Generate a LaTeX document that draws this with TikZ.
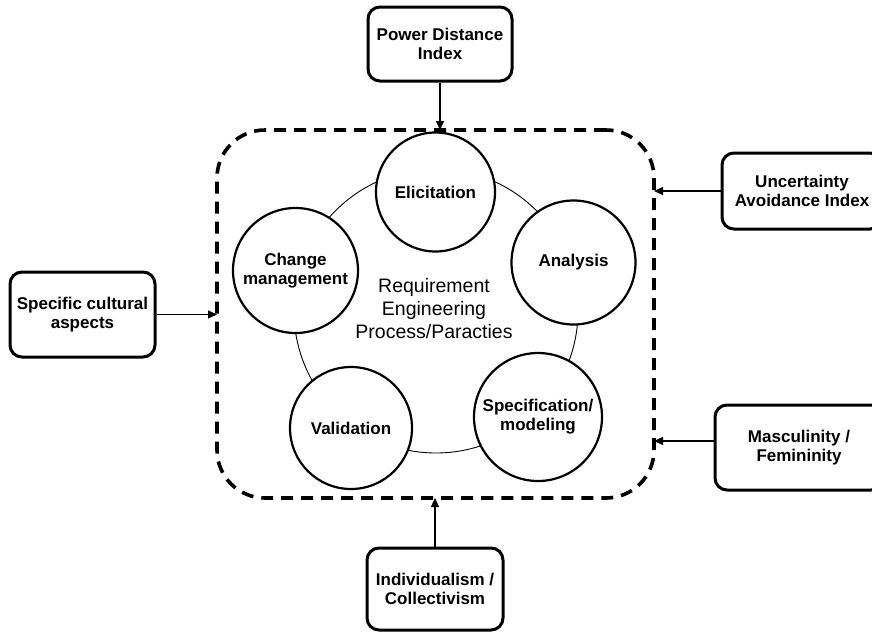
\documentclass[tikz,border=0pt]{standalone}
\usepackage{fontspec}
\setmainfont{Liberation Sans}
\usetikzlibrary{arrows.meta,calc}
\begin{document}
\begin{tikzpicture}[x=1pt,y=-1pt,
  box/.style={draw,line width=3pt,rounded corners=12pt,align=center,inner sep=0pt,
    font=\fontsize{17}{19}\selectfont\bfseries},
  stage/.style={draw,circle,line width=2.2pt,fill=white,inner sep=0pt,align=center,
    font=\fontsize{17}{19}\selectfont\bfseries},
  frame/.style={draw,rectangle,rounded corners=48pt,line width=3.6pt,
    dash pattern=on 12pt off 8pt,outer sep=0pt,inner sep=0pt},
  link/.style={line width=1.2pt,-{Triangle[length=9pt,width=8pt]}}
]
\useasboundingbox (0,0) rectangle (872,632);
\clip (0,0) rectangle (872,632);
\fill[white] (0,0) rectangle (872,632);

% dashed frame
\node[frame,minimum width=437pt,minimum height=368pt] (frame) at (435.5,314) {};

% thin cycle
\coordinate (cyc) at (436,311);
\draw[line width=0.9pt] (cyc) circle[radius=142];

% stages
\node[stage,minimum size=119pt] (eli) at (435.5,192) {Elicitation};
\node[stage,minimum size=124pt] (ana) at (573.5,262.5) {Analysis};
\node[stage,minimum size=128pt] (spe) at (538,417) {Specification/\\modeling};
\node[stage,minimum size=122pt] (val) at (351,428) {Validation};
\node[stage,minimum size=125pt] (chg) at (295.5,270.5) {Change\\management};

\node[align=center,font=\fontsize{19.5}{23}\selectfont] (ctr) at (434,309)
  {Requirement\\Engineering\\Process/Paracties};

% outer boxes
\node[box,minimum width=144pt,minimum height=74pt] (pdi) at (440,44) {Power Distance\\Index};
\node[box,minimum width=160pt,minimum height=76pt] (uai) at (802,191) {Uncertainty\\Avoidance Index};
\node[box,minimum width=145pt,minimum height=85pt] (sca) at (82.5,314.5) {Specific cultural\\aspects};
\node[box,minimum width=168pt,minimum height=85pt] (mf) at (799,447.5) {Masculinity /\\Femininity};
\node[box,minimum width=136pt,minimum height=82pt] (ic) at (435,589) {Individualism /\\Collectivism};

% arrows
\draw[link] (pdi.south) -- (pdi.south |- frame.north);
\draw[link] (uai.west) -- (uai.west -| frame.east);
\draw[link] (sca.east) -- (sca.east -| frame.west);
\draw[link] ([yshift=6.5pt]mf.west) -- ([yshift=6.5pt]mf.west -| frame.east);
\draw[link] (ic.north) -- (ic.north |- frame.south);
\end{tikzpicture}
\end{document}
